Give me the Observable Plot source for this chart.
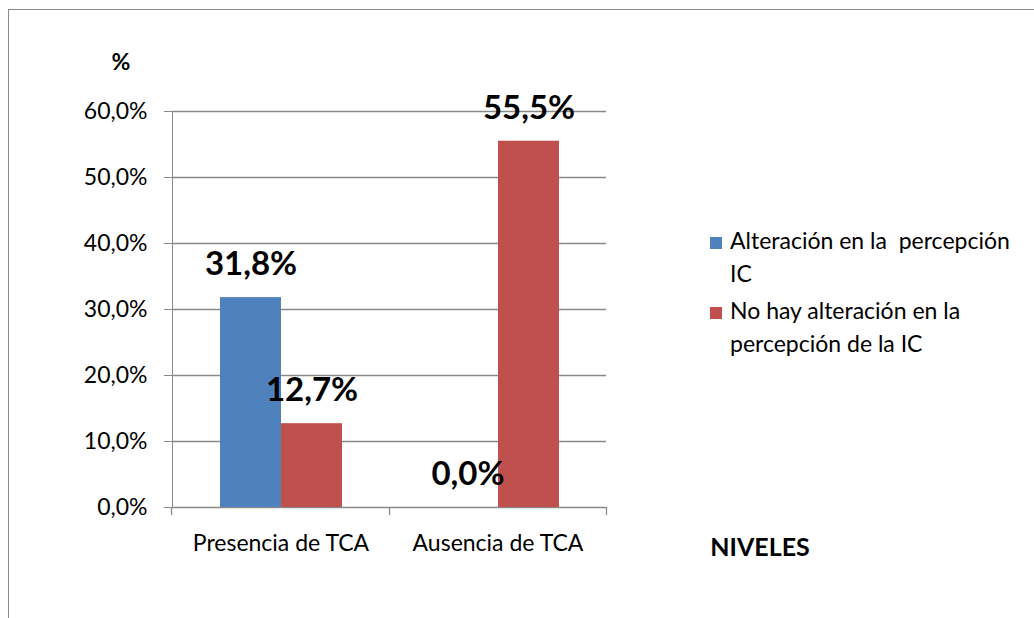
<!DOCTYPE html>
<html><head><meta charset="utf-8">
<script src="https://cdn.jsdelivr.net/npm/d3@7"></script>
<script src="https://cdn.jsdelivr.net/npm/@observablehq/plot@0.6"></script>
<style>
html,body{margin:0;padding:0;background:#fff;}
#wrap{position:relative;width:1034px;height:618px;overflow:hidden;font-family:Lato, sans-serif;color:#000;}
#border{position:absolute;left:8px;top:9px;width:1100px;height:700px;border-top:1.5px solid #8a8a8a;border-left:1.5px solid #8a8a8a;}
#chart{position:absolute;left:0;top:0;}
#chart svg text{fill:#000;}
.title{position:absolute;font-weight:bold;line-height:1;white-space:nowrap;transform:translateX(-50%);}
#legend{position:absolute;left:710px;top:224px;font-size:23px;line-height:33px;}
.item{position:relative;padding-left:20px;white-space:pre;margin-bottom:4px;}
.sw{position:absolute;left:0;top:13px;width:12px;height:12px;}
</style></head>
<body>
<div id="wrap">
  <div id="border"></div>
  <div id="chart"></div>
  <div class="title" id="ytitle" style="left:121px;top:50px;font-size:23px;">%</div>
  <div class="title" id="xtitle" style="left:760px;top:534px;font-size:25px;">NIVELES</div>
  <div id="legend"></div>
</div>
<script>
const categories = ["Presencia de TCA", "Ausencia de TCA"];
const series = ["Alteración en la  percepción IC", "No hay alteración en la percepción de la IC"];
const legendLabels = ["Alteración en la  percepción\nIC", "No hay alteración en la\npercepción de la IC"];
const alteracion = [31.8, 0.0];
const noAlteracion = [12.7, 55.5];
const yTicks = [0, 10, 20, 30, 40, 50, 60];
const colors = ["#4F81BD", "#C0504D"];

const data = [];
categories.forEach((c, i) => {
  data.push({category: c, series: series[0], value: alteracion[i]});
  data.push({category: c, series: series[1], value: noAlteracion[i]});
});
const fmt = v => v.toFixed(1).replace(".", ",") + "%";
const gray = "#8a8a8a";

const plot = Plot.plot({
  width: 1034,
  height: 618,
  marginLeft: 171,
  marginRight: 428,
  marginTop: 111,
  marginBottom: 111,
  style: {fontFamily: "Lato, sans-serif", fontSize: "23px", color: gray, background: "transparent"},
  facet: {data, x: "category"},
  fx: {domain: categories, padding: 0, label: null, axis: "bottom", tickSize: 0, tickPadding: 27},
  x: {domain: series, paddingInner: 0, paddingOuter: 0.754, axis: null},
  y: {domain: [0, 60], ticks: yTicks, tickFormat: fmt, tickSize: 8, tickPadding: 17, line: true, label: null},
  color: {domain: series, range: colors},
  marks: [
    Plot.ruleY(yTicks, {stroke: gray, strokeWidth: 1.3}),
    Plot.barY(data, {x: "series", y: "value", fill: "series"}),
    Plot.text(data, {x: "series", y: "value", text: d => fmt(d.value), dy: -33, fontSize: 33, fontWeight: "bold", fill: "#000"})
  ]
});
document.getElementById("chart").appendChild(plot);

// category boundary ticks on the bottom axis, from the fx scale
const fxs = plot.scale("fx"), ys = plot.scale("y");
const r0 = Math.min(...fxs.range), r1 = Math.max(...fxs.range);
const y0 = Math.max(...ys.range);
const step = (r1 - r0) / categories.length;
const g = d3.select(plot).append("g").attr("stroke", gray).attr("stroke-width", 1.3);
for (let i = 0; i <= categories.length; i++) {
  const x = Math.round(r0 + i * step) + 0.5;
  g.append("line").attr("x1", x).attr("x2", x).attr("y1", y0).attr("y2", y0 + 8);
}

// legend
const leg = d3.select("#legend");
series.forEach((s, i) => {
  const it = leg.append("div").attr("class", "item");
  it.append("div").attr("class", "sw").style("background", colors[i]);
  it.append("span").text(legendLabels[i]);
});
</script>
</body></html>
